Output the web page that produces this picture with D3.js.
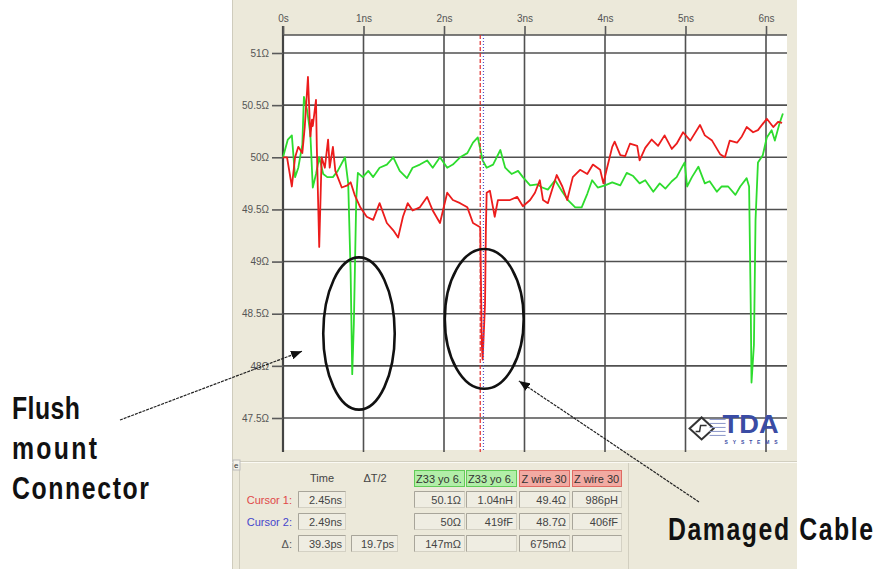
<!DOCTYPE html>
<html>
<head>
<meta charset="utf-8">
<script src="https://cdn.jsdelivr.net/npm/d3@7"></script>
<style>
  body { margin: 0; background: #fff; }
  svg { display: block; }
  text { font-family: "Liberation Sans", Arial, sans-serif; }
</style>
</head>
<body>
<svg id="chart" width="876" height="569"></svg>
<script>
// axis ticks
const xTicks = [0, 1, 2, 3, 4, 5, 6];
const xTickLabels = ["0s", "1ns", "2ns", "3ns", "4ns", "5ns", "6ns"];
const yTicks = [47.5, 48, 48.5, 49, 49.5, 50, 50.5, 51];
const yTickLabels = ["47.5Ω", "48Ω", "48.5Ω", "49Ω", "49.5Ω", "50Ω", "50.5Ω", "51Ω"];

// Z wire 30 (red), time in ns / impedance in ohm
const redTime = [0.00,0.05,0.11,0.15,0.19,0.24,0.27,0.31,0.34,0.36,0.37,0.41,0.42,0.45,0.48,0.52,0.56,0.58,0.62,0.65,
  0.68,0.73,0.80,0.84,0.89,0.96,1.04,1.12,1.20,1.29,1.37,1.43,1.49,1.55,1.61,1.70,1.79,1.86,1.95,2.04,
  2.11,2.20,2.29,2.36,2.45,2.47,2.48,2.51,2.52,2.53,2.57,2.63,2.67,2.76,2.82,2.91,2.98,3.07,3.13,3.19,
  3.23,3.29,3.40,3.47,3.53,3.60,3.69,3.78,3.85,3.94,3.98,4.02,4.09,4.12,4.19,4.25,4.31,4.40,4.43,4.50,
  4.58,4.66,4.74,4.83,4.89,4.97,5.06,5.18,5.24,5.33,5.43,5.49,5.55,5.64,5.70,5.76,5.84,5.90,6.01,6.09,
  6.15,6.20];
const redOhm = [50.00,50.00,49.72,50.00,50.10,50.04,50.29,50.77,50.20,50.36,50.30,50.55,50.10,49.14,50.00,49.90,50.17,49.90,50.10,49.87,
  49.81,49.71,49.73,49.76,49.64,49.52,49.43,49.40,49.56,49.37,49.30,49.23,49.43,49.56,49.49,49.52,49.62,49.49,49.37,49.66,
  49.59,49.56,49.52,49.37,49.33,48.20,48.06,48.60,49.30,49.66,49.68,49.43,49.59,49.59,49.59,49.62,49.53,49.59,49.66,49.78,
  49.59,49.56,49.83,49.72,49.59,49.81,49.88,49.84,49.93,49.88,49.75,49.88,50.10,50.15,50.02,50.01,50.13,50.11,49.97,50.09,
  50.17,50.11,50.21,50.08,50.13,50.24,50.16,50.31,50.21,50.16,50.03,50.00,50.16,50.14,50.20,50.29,50.24,50.26,50.37,50.29,
  50.34,50.33];

// Z33 yo 6 (green)
const greenTime = [0.00,0.06,0.11,0.15,0.19,0.24,0.26,0.30,0.34,0.37,0.41,0.45,0.50,0.55,0.62,0.68,0.77,0.81,0.84,0.86,
  0.88,0.91,0.93,0.99,1.06,1.12,1.20,1.29,1.37,1.45,1.54,1.61,1.70,1.79,1.86,1.95,2.04,2.11,2.20,2.29,
  2.36,2.42,2.48,2.53,2.61,2.70,2.76,2.84,2.92,2.98,3.07,3.16,3.22,3.29,3.38,3.47,3.54,3.63,3.71,3.78,
  3.84,3.91,4.00,4.09,4.19,4.27,4.35,4.43,4.50,4.60,4.68,4.75,4.83,4.89,4.96,4.99,5.02,5.08,5.16,5.24,
  5.30,5.39,5.45,5.53,5.62,5.68,5.76,5.79,5.81,5.82,5.85,5.87,5.90,5.96,6.01,6.07,6.11,6.17,6.21];
const greenOhm = [50.00,50.17,50.21,49.81,49.90,50.12,50.58,50.45,50.22,49.71,49.84,50.00,49.84,49.81,49.81,49.87,50.00,49.75,48.90,47.92,
  48.40,49.60,49.85,49.81,49.87,49.81,49.90,49.93,50.00,49.87,49.80,49.90,49.93,49.97,49.90,50.00,49.90,49.93,50.00,50.04,
  50.14,50.19,49.97,49.90,49.93,50.07,49.90,49.84,49.87,49.81,49.73,49.74,49.71,49.69,49.78,49.67,49.59,49.52,49.52,49.65,
  49.78,49.71,49.73,49.76,49.73,49.85,49.82,49.75,49.78,49.67,49.75,49.70,49.77,49.81,49.91,49.95,49.72,49.81,49.91,49.75,
  49.77,49.67,49.72,49.72,49.64,49.72,49.80,49.72,48.60,47.84,48.20,49.40,49.95,50.02,50.19,50.26,50.16,50.33,50.42];

const cursorTimes = [2.45, 2.49];

// readout table
const rowLabels = ["Cursor 1:", "Cursor 2:", "Δ:"];
const rowLabelColors = ["#e04848", "#4646cc", "#555"];
const colHeaders = ["Z33 yo 6.", "Z33 yo 6.", "Z wire 30", "Z wire 30"];
const timeValues = ["2.45ns", "2.49ns", "39.3ps"];
const halfDeltaValues = ["", "", "19.7ps"];
const z33Values = [["50.1Ω", "1.04nH"], ["50Ω", "419fF"], ["147mΩ", ""]];
const zwireValues = [["49.4Ω", "986pH"], ["48.7Ω", "406fF"], ["675mΩ", ""]];

const svg = d3.select("#chart");
const beige = "#ece9da";

const plot = {left: 283, right: 787, top: 35, bottom: 450};
const x = d3.scaleLinear().domain([0, 6]).range([283, 766]);
const y = d3.scaleLinear().domain([47.5, 51]).range([418, 53]);

// window background
svg.append("rect").attr("x", 232).attr("y", 0).attr("width", 565).attr("height", 569).attr("fill", beige);
svg.append("line").attr("x1", 232.5).attr("x2", 232.5).attr("y1", 0).attr("y2", 569)
  .attr("stroke", "#cfccbd");
svg.append("rect").attr("x", plot.left).attr("y", plot.top)
  .attr("width", plot.right - plot.left).attr("height", plot.bottom - plot.top).attr("fill", "#fff");

// grid
const gridColor = "#505050";
svg.append("g").selectAll("line").data(xTicks).join("line")
  .attr("x1", d => x(d)).attr("x2", d => x(d))
  .attr("y1", plot.top).attr("y2", plot.bottom + 2)
  .attr("stroke", gridColor).attr("stroke-width", 1.6);
svg.append("g").selectAll("line").data(yTicks).join("line")
  .attr("x1", plot.left).attr("x2", plot.right)
  .attr("y1", d => y(d)).attr("y2", d => y(d))
  .attr("stroke", gridColor).attr("stroke-width", 1.6);
svg.append("line").attr("x1", plot.left).attr("x2", plot.right)
  .attr("y1", plot.top).attr("y2", plot.top)
  .attr("stroke", gridColor).attr("stroke-width", 1.6);
svg.append("line").attr("x1", plot.left).attr("x2", plot.left)
  .attr("y1", plot.top - 9).attr("y2", plot.bottom + 2)
  .attr("stroke", "#444").attr("stroke-width", 2.2);

// axes
const xAxis = svg.append("g").attr("transform", `translate(0,${plot.top})`)
  .call(d3.axisTop(x).tickValues(xTicks).tickFormat((d, i) => xTickLabels[i]).tickSize(9).tickPadding(4));
const yAxis = svg.append("g").attr("transform", `translate(${plot.left},0)`)
  .call(d3.axisLeft(y).tickValues(yTicks).tickFormat((d, i) => yTickLabels[i]).tickSize(11).tickPadding(3));
[xAxis, yAxis].forEach(a => {
  a.select(".domain").remove();
  a.selectAll(".tick line").attr("stroke", "#5a5a5a").attr("stroke-width", 1.6);
  a.selectAll(".tick text").attr("fill", "#555").style("font-size", "10px")
    .style("font-family", "Liberation Sans, Arial, sans-serif");
});

// traces
const line = d3.line().x(d => x(d.t)).y(d => y(d.v));
const green = greenTime.map((t, i) => ({t: t, v: greenOhm[i]}));
const red = redTime.map((t, i) => ({t: t, v: redOhm[i]}));
svg.append("path").datum(green).attr("d", line)
  .attr("fill", "none").attr("stroke", "#2edc2e").attr("stroke-width", 1.8).attr("stroke-linejoin", "round");
svg.append("path").datum(red).attr("d", line)
  .attr("fill", "none").attr("stroke", "#ec1c1c").attr("stroke-width", 1.8).attr("stroke-linejoin", "round");

// cursors
svg.append("line").attr("x1", x(cursorTimes[0])).attr("x2", x(cursorTimes[0]))
  .attr("y1", plot.top).attr("y2", plot.bottom + 2)
  .attr("stroke", "#e02a2a").attr("stroke-width", 1.2).attr("stroke-dasharray", "4,2");
svg.append("line").attr("x1", x(cursorTimes[1])).attr("x2", x(cursorTimes[1]))
  .attr("y1", plot.top).attr("y2", plot.bottom + 2)
  .attr("stroke", "#5050c8").attr("stroke-width", 1.2).attr("stroke-dasharray", "1,2");

// TDA logo
const logo = svg.append("g");
const lx = x(5.2), ly = y(47.4);
logo.append("path")
  .attr("d", `M${lx - 12},${ly} L${lx},${ly - 11} L${lx + 12},${ly} L${lx},${ly + 11} Z`)
  .attr("fill", "#fff").attr("stroke", "#333").attr("stroke-width", 2);
logo.append("path")
  .attr("d", `M${lx - 6},${ly + 3} L${lx - 2},${ly + 3} L${lx - 1},${ly - 3} L${lx + 5},${ly - 3}`)
  .attr("fill", "none").attr("stroke", "#333").attr("stroke-width", 1.5);
[0, 4, 8, 12, 16].forEach(dy => {
  logo.append("line").attr("x1", lx + 8).attr("x2", lx + 24)
    .attr("y1", ly - 9 + dy).attr("y2", ly - 9 + dy).attr("stroke", "#8a96c8").attr("stroke-width", 1);
});
logo.append("text").attr("x", lx + 21).attr("y", ly + 5)
  .attr("textLength", 56).attr("lengthAdjust", "spacingAndGlyphs")
  .style("font-size", "25px").style("font-weight", "bold").attr("fill", "#3a4ca4").text("TDA");
logo.append("text").attr("x", lx + 23).attr("y", ly + 16)
  .attr("textLength", 53).attr("lengthAdjust", "spacing")
  .style("font-size", "5px").style("font-weight", "bold").attr("fill", "#3a4ca4").text("SYSTEMS");

// readout panel
svg.append("line").attr("x1", 232).attr("x2", 797).attr("y1", 461.5).attr("y2", 461.5).attr("stroke", "#d2cfc0");
svg.append("line").attr("x1", 232).attr("x2", 797).attr("y1", 462.5).attr("y2", 462.5).attr("stroke", "#fbfaf4");
svg.append("line").attr("x1", 239.5).attr("x2", 239.5).attr("y1", 468).attr("y2", 569).attr("stroke", "#cfccbd");
svg.append("line").attr("x1", 628.5).attr("x2", 628.5).attr("y1", 463).attr("y2", 569).attr("stroke", "#d2cfc0");
svg.append("rect").attr("x", 233).attr("y", 460).attr("width", 7).attr("height", 10).attr("fill", "#f4f2ea").attr("stroke", "#bbb");
svg.append("text").attr("x", 234).attr("y", 468).style("font-size", "8px").attr("fill", "#333").text("e");

const table = svg.append("g").style("font-size", "11px");
const colX = {time: [298, 345], half: [351, 397], z: [[414, 464], [466, 516], [519, 569], [572, 621]]};
const rowTop = [491, 513, 535];

table.append("text").attr("x", 322).attr("y", 482).attr("text-anchor", "middle").attr("fill", "#444").text("Time");
table.append("text").attr("x", 375).attr("y", 482).attr("text-anchor", "middle").attr("fill", "#444").text("ΔT/2");

colHeaders.forEach((h, i) => {
  const isGreen = i < 2;
  table.append("rect").attr("x", colX.z[i][0] + 0.5).attr("y", 470.5)
    .attr("width", colX.z[i][1] - colX.z[i][0]).attr("height", 16)
    .attr("fill", isGreen ? "#b2eea8" : "#f2aaa2").attr("stroke", isGreen ? "#62cc58" : "#e06a62");
  table.append("text").attr("x", (colX.z[i][0] + colX.z[i][1]) / 2).attr("y", 482.5)
    .attr("text-anchor", "middle").attr("fill", "#333").text(h);
});

function box(x0, x1, top, value) {
  table.append("rect").attr("x", x0 + 0.5).attr("y", top + 0.5).attr("width", x1 - x0).attr("height", 16)
    .attr("fill", "#efede2").attr("stroke", "#d4d1c4");
  table.append("path").attr("d", `M${x0 + 0.5},${top + 16.5} V${top + 0.5} H${x1 + 0.5}`)
    .attr("fill", "none").attr("stroke", "#a8a59a");
  if (value) {
    table.append("text").attr("x", x1 - 3).attr("y", top + 12.5).attr("text-anchor", "end")
      .attr("fill", "#444").text(value);
  }
}

rowLabels.forEach((lab, r) => {
  table.append("text").attr("x", 292).attr("y", rowTop[r] + 12.5).attr("text-anchor", "end")
    .attr("fill", rowLabelColors[r]).text(lab);
  box(colX.time[0], colX.time[1], rowTop[r], timeValues[r]);
  if (halfDeltaValues[r]) box(colX.half[0], colX.half[1], rowTop[r], halfDeltaValues[r]);
  const vals = z33Values[r].concat(zwireValues[r]);
  vals.forEach((v, c) => box(colX.z[c][0], colX.z[c][1], rowTop[r], v));
});

// annotations
const defs = svg.append("defs");
defs.append("marker").attr("id", "head").attr("viewBox", "0 0 10 8")
  .attr("refX", 10).attr("refY", 4).attr("markerWidth", 11).attr("markerHeight", 9)
  .attr("markerUnits", "userSpaceOnUse").attr("orient", "auto")
  .append("path").attr("d", "M0,0 L10,4 L0,8 Z").attr("fill", "#111");

svg.append("ellipse").attr("cx", x(0.944)).attr("cy", y(48.31))
  .attr("rx", x(0.944) - x(0.5)).attr("ry", y(47.58) - y(48.31))
  .attr("fill", "none").attr("stroke", "#111").attr("stroke-width", 2.6);
svg.append("ellipse").attr("cx", x(2.50)).attr("cy", y(48.45))
  .attr("rx", x(2.50) - x(2.01)).attr("ry", y(47.78) - y(48.45))
  .attr("fill", "none").attr("stroke", "#111").attr("stroke-width", 2.6);

svg.append("line").attr("x1", 120).attr("y1", 420).attr("x2", x(0.236)).attr("y2", y(48.14))
  .attr("stroke", "#222").attr("stroke-width", 1.2).attr("stroke-dasharray", "3,1")
  .attr("marker-end", "url(#head)");
svg.append("line").attr("x1", 699).attr("y1", 502).attr("x2", x(2.93)).attr("y2", y(47.855))
  .attr("stroke", "#222").attr("stroke-width", 1.2).attr("stroke-dasharray", "3,1")
  .attr("marker-end", "url(#head)");

// condensed bold labels: narrow the glyphs, then spread the letters
const squeeze = 0.8;
const labels = [
  {text: "Flush", x: 12, y: 419, w: 68},
  {text: "mount", x: 12, y: 459, w: 85},
  {text: "Connector", x: 12, y: 499, w: 137},
  {text: "Damaged Cable", x: 668, y: 540, w: 205}
];
labels.forEach(l => {
  svg.append("g").attr("transform", `translate(${l.x},${l.y}) scale(${squeeze},1)`)
    .append("text").attr("x", 0).attr("y", 0)
    .attr("textLength", l.w / squeeze).attr("lengthAdjust", "spacing")
    .attr("fill", "#111").style("font-weight", "bold").style("font-size", "31px")
    .text(l.text);
});
</script>
</body>
</html>
